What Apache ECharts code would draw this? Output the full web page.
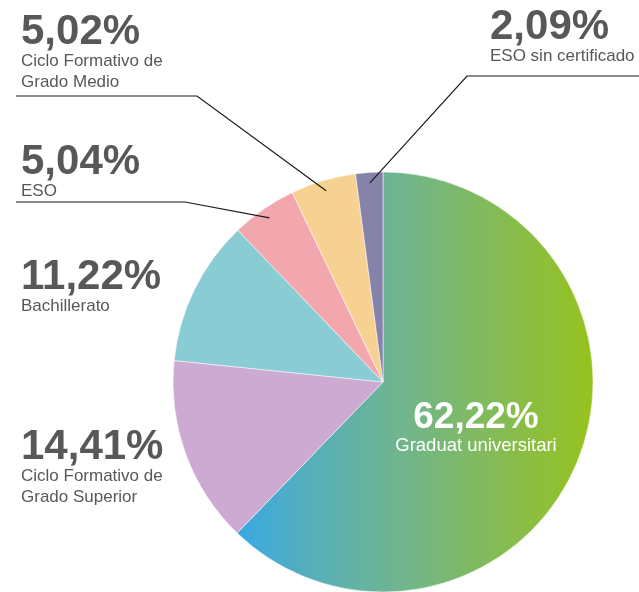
<!DOCTYPE html>
<html>
<head>
<meta charset="utf-8">
<script src="https://cdn.jsdelivr.net/npm/echarts@6/dist/echarts.min.js"></script>
<style>
  html, body { margin: 0; padding: 0; background: #fff; }
  #chart { width: 639px; height: 592px; }
</style>
</head>
<body>
<div id="chart"></div>
<script>
// data, clockwise from 12 o'clock
const categories = [
  'Graduat universitari',
  'Ciclo Formativo de\nGrado Superior',
  'Bachillerato',
  'ESO',
  'Ciclo Formativo de\nGrado Medio',
  'ESO sin certificado'
];
const values = [62.22, 14.41, 11.22, 5.04, 5.02, 2.09];
const colors = ['gradient', '#cdaad2', '#89ccd3', '#f2a7af', '#f7d191', '#8583aa'];

// label placement (pixels): x, y (top), align, line elbow x/y, line end x
const labelPos = [
  { x: 476, y: 401, align: 'center', inside: true },
  { x: 21, y: 428, align: 'left' },
  { x: 21, y: 258, align: 'left' },
  { x: 21, y: 143, align: 'left', elbow: [185, 202], end: 16 },
  { x: 21, y: 13, align: 'left', elbow: [197, 96], end: 16 },
  { x: 490, y: 8, align: 'left', elbow: [467, 76], end: 639 }
];

const CX = 383, CY = 382, R = 210;
const total = values.reduce((a, b) => a + b, 0);

// middle angle of each slice, measured clockwise from top
function midAngle(i) {
  let before = 0;
  for (let k = 0; k < i; k++) before += values[k];
  return ((before + values[i] / 2) / total) * Math.PI * 2;
}

function fmt(v) {
  return v.toFixed(2).replace('.', ',') + '%';
}

const gradient = new echarts.graphic.LinearGradient(0, 0, 0, 0, [
  { offset: 0, color: '#3aa9e1' },
  { offset: 0.17, color: '#52aebf' },
  { offset: 0.45, color: '#70b58e' },
  { offset: 1, color: '#97c21c' }
]);
gradient.x = 240; gradient.x2 = 594; gradient.y = 0; gradient.y2 = 0;
gradient.global = true;

const FONT = 'Liberation Sans';
const outsideRich = {
  a: { fontSize: 42, fontWeight: 'bold', color: '#58585a', lineHeight: 38, fontFamily: FONT },
  b: { fontSize: 17, color: '#58585a', lineHeight: 21, fontFamily: FONT }
};
const insideRich = {
  a: { fontSize: 37, fontWeight: 'bold', color: '#fff', lineHeight: 34, fontFamily: FONT, align: 'center' },
  b: { fontSize: 18.5, color: '#fff', lineHeight: 22, fontFamily: FONT, align: 'center' }
};

const chart = echarts.init(document.getElementById('chart'));

// slices only
const sliceData = categories.map((name, i) => ({
  name: name,
  value: values[i],
  itemStyle: { color: colors[i] === 'gradient' ? gradient : colors[i] }
}));

// same pie on top, transparent, carrying labels + leader lines so lines sit above slices
const labelData = categories.map((name, i) => {
  const p = labelPos[i];
  return {
    name: name,
    value: values[i],
    label: { rich: p.inside ? insideRich : outsideRich },
    labelLine: { show: !!p.elbow }
  };
});

chart.setOption({
  animation: false,
  series: [{
    type: 'pie',
    z: 2,
    center: [CX, CY],
    radius: R,
    startAngle: 90,
    clockwise: true,
    silent: true,
    itemStyle: { borderColor: '#fff', borderWidth: 0.5 },
    label: { show: false },
    labelLine: { show: false },
    data: sliceData
  }, {
    type: 'pie',
    z: 3,
    center: [CX, CY],
    radius: R,
    startAngle: 90,
    clockwise: true,
    silent: true,
    avoidLabelOverlap: false,
    itemStyle: { color: 'rgba(0,0,0,0)', borderWidth: 0 },
    label: {
      show: true,
      position: 'outside',
      formatter: (p) => '{a|' + fmt(p.value) + '}\n' +
        p.name.split('\n').map((s) => '{b|' + s + '}').join('\n')
    },
    labelLine: { show: true, lineStyle: { color: '#1a1a1a', width: 1.2 } },
    labelLayout: function (params) {
      const i = params.dataIndex;
      const p = labelPos[i];
      const out = { x: p.x, y: p.y, align: p.align, verticalAlign: 'top', hideOverlap: false };
      if (p.elbow) {
        const a = midAngle(i);
        const r = R * 0.95;
        const sx = CX + r * Math.sin(a);
        const sy = CY - r * Math.cos(a);
        out.labelLinePoints = [[sx, sy], p.elbow, [p.end, p.elbow[1]]];
      }
      return out;
    },
    data: labelData
  }]
});
</script>
</body>
</html>
